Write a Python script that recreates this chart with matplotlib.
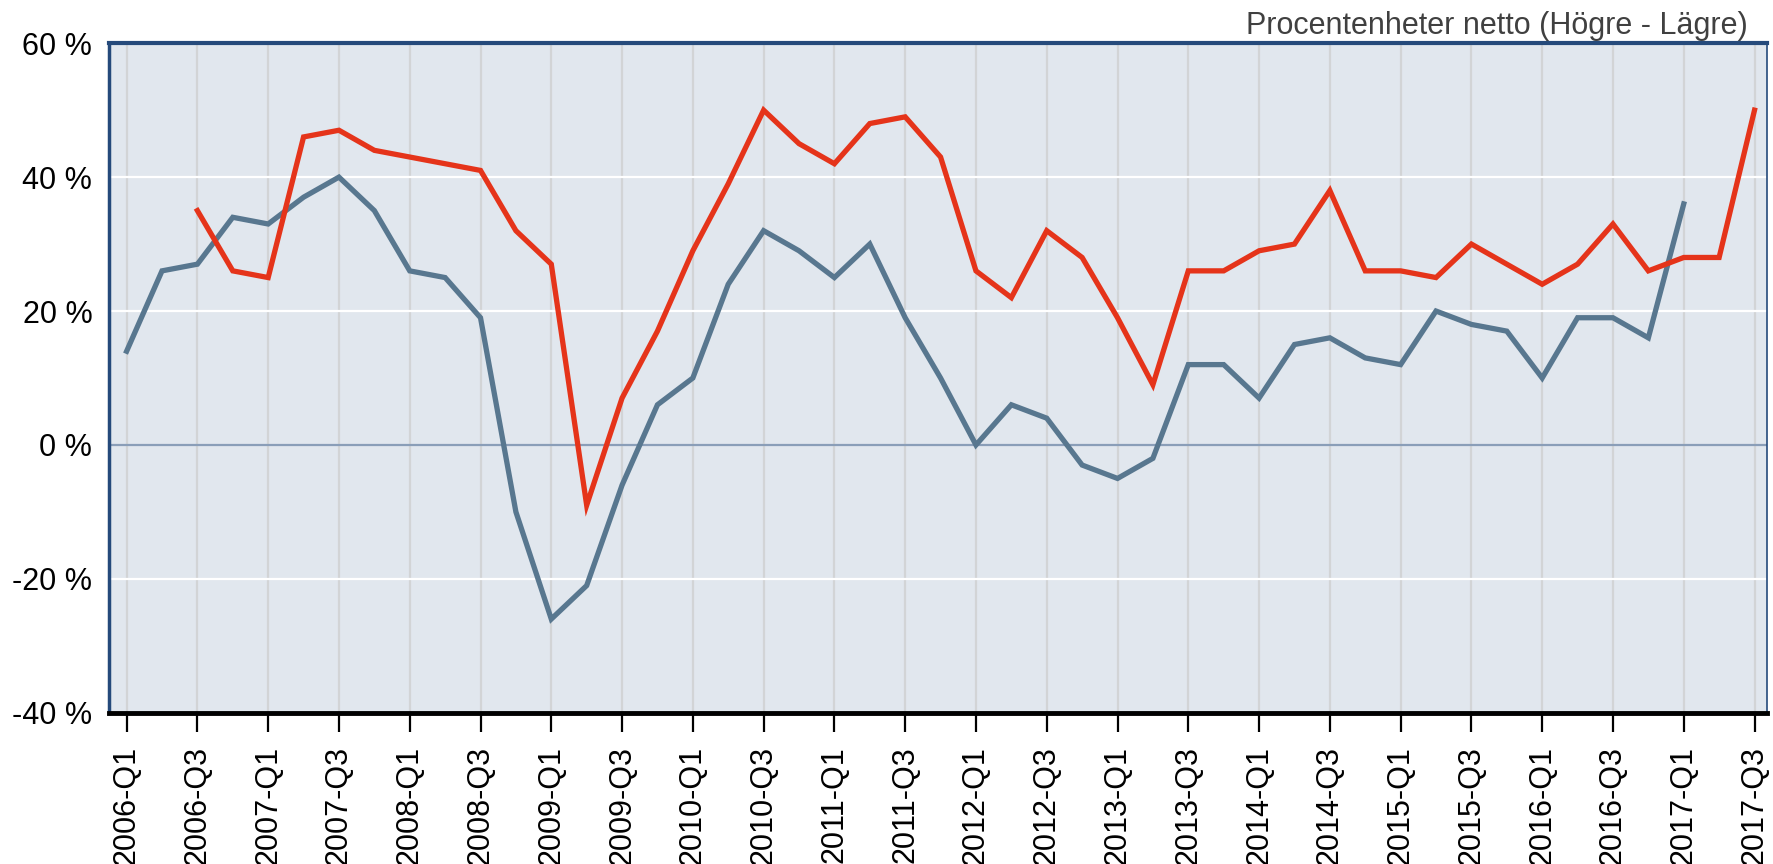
import numpy as np
import matplotlib
matplotlib.use("Agg")
import matplotlib.pyplot as plt

plt.rcParams['font.family'] = ['Liberation Sans', 'DejaVu Sans']

# kvartal 2006-Q1 .. 2017-Q3
years = list(range(2006, 2018))
quarters = [f"{y}-Q{q}" for y in years for q in range(1, 5)][:47]

# blå serie
serie_bla = [14, 26, 27, 34, 33, 37, 40, 35, 26, 25, 19, -10, -26, -21, -6, 6,
             10, 24, 32, 29, 25, 30, 19, 10, 0, 6, 4, -3, -5, -2, 12, 12,
             7, 15, 16, 13, 12, 20, 18, 17, 10, 19, 19, 16, 36, np.nan, np.nan]
# röd serie
serie_rod = [np.nan, np.nan, 35, 26, 25, 46, 47, 44, 43, 42, 41, 32, 27, -9, 7, 17,
             29, 39, 50, 45, 42, 48, 49, 43, 26, 22, 32, 28, 19, 9, 26, 26,
             29, 30, 38, 26, 26, 25, 30, 27, 24, 27, 33, 26, 28, 28, 50]

y_ticks = [-40, -20, 0, 20, 40, 60]

fig = plt.figure(figsize=(17.74, 8.64), dpi=100)
ax = fig.add_axes([0.0614, 0.175, 0.9346, 0.775])
ax.set_facecolor('#e1e7ee')

x = np.arange(len(quarters))

# rutnät
for xi in x[::2]:
    ax.axvline(xi, color='#d2d4d6', lw=1.6, zorder=1)
for yv in y_ticks:
    if yv == 0:
        ax.axhline(0, color='#8a9eb8', lw=1.6, zorder=1)
    else:
        ax.axhline(yv, color='white', lw=1.6, zorder=1)

ax.plot(x, serie_bla, color='#58778f', lw=3.8, zorder=3, solid_joinstyle='miter')
ax.plot(x, serie_rod, color='#e5341a', lw=3.8, zorder=3, solid_joinstyle='miter')

ax.set_xlim(-0.5, 46.35)
ax.set_ylim(-40, 60)
ax.set_xticks(x[::2])
ax.set_xticklabels(quarters[::2], rotation=90, fontsize=22)
ax.set_yticks(y_ticks)
ax.set_yticklabels([f"{v} %" for v in y_ticks], fontsize=22)
ax.tick_params(axis='y', length=0, pad=12)
ax.tick_params(axis='x', length=14, width=1.6, pad=10, colors='black')

for s in ['top', 'left']:
    ax.spines[s].set_color('#254a7b')
ax.spines['top'].set_linewidth(3)
ax.spines['left'].set_linewidth(2.5)
ax.spines['right'].set_color('#254a7b')
ax.spines['right'].set_linewidth(1.2)
ax.spines['bottom'].set_color('black')
ax.spines['bottom'].set_linewidth(3.5)

fig.text(0.9853, 0.987, 'Procentenheter netto (Högre - Lägre)', ha='right', va='top',
         fontsize=22, color='#404040')

fig.savefig('out.png', dpi=100)
